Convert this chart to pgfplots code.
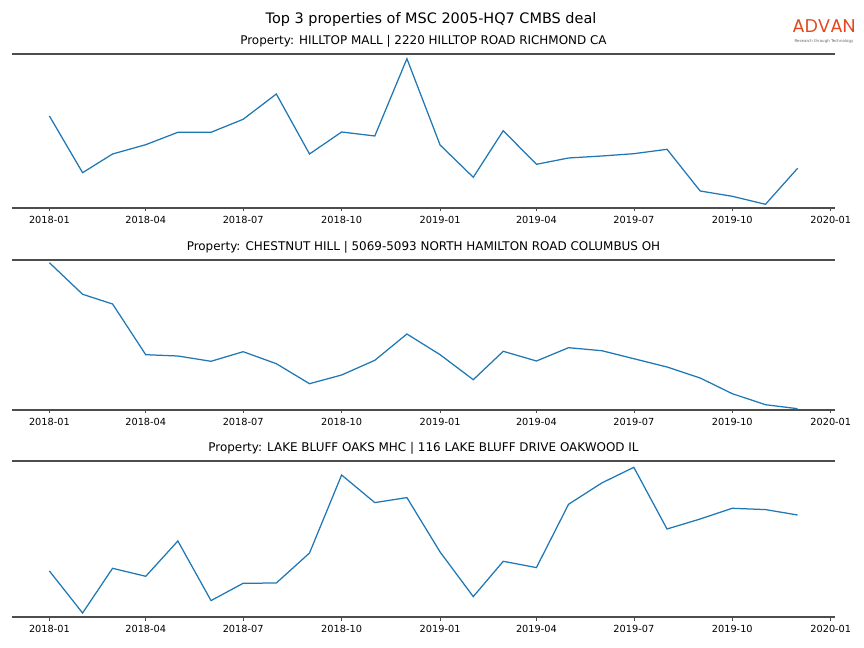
\documentclass[border=0pt]{standalone}
\usepackage{pgfplots}
\pgfplotsset{compat=1.18}
\usepackage{fontspec}
\setmainfont{DejaVu Sans}
\newfontfamily\logofont{Poppins}
\definecolor{mplblue}{HTML}{1F77B4}
\definecolor{spine}{HTML}{4D4D4D}
\definecolor{advan}{HTML}{E4471C}
\pgfplotsset{
  panel/.style={
    scale only axis, width=823bp,
    xmin=-34.95, xmax=733.95, ymin=0,
    axis x line=box, axis y line=none,
    axis line style={spine, line width=1.6bp},
    xtick={0,90,181,273,365,455,546,638,730},
    xticklabels={2018-01,2018-04,2018-07,2018-10,2019-01,2019-04,2019-07,2019-10,2020-01},
    xtick pos=bottom, xtick align=outside,
    major tick length=3.5bp,
    tick style={black!70, line width=0.6bp},
    ytick=\empty,
    ticklabel style={font=\fontsize{9.8}{11}\selectfont, /pgf/number format/assume math mode=true},
    xticklabel style={yshift=-1.5bp},
    title style={font=\fontsize{12}{13}\selectfont, yshift=-3bp},
  },
  dataline/.style={mplblue, line width=1.25bp, mark=none},
}
\begin{document}
\begin{tikzpicture}
\path[use as bounding box] (0,0) rectangle (864bp,648bp);
\node[font=\fontsize{14.5}{16}\selectfont] at (431bp,628.5bp) {Top 3 properties of MSC 2005-HQ7 CMBS deal};
\node[advan, font=\logofont\fontsize{18.5}{19}\selectfont, inner sep=0pt, anchor=base] at (824bp,615bp) {ADVAN};
\node[black!60, font=\fontsize{4}{5}\selectfont, inner sep=0pt, anchor=base] at (824bp,605bp) {Research through Technology};

\begin{axis}[panel, at={(12bp,440bp)}, anchor=south west, height=154bp, ymax=154,
  title={Property: HILLTOP MALL | 2220 HILLTOP ROAD RICHMOND CA}]
\addplot[dataline] coordinates {(0,92) (31,35.3) (59,54) (90,63.3) (120,75.7) (151,75.7) (181,88.7) (212,114) (243,54) (273,76) (304,72) (334,149.3)
(365,63) (396,30.7) (424,77.3) (455,43.7) (485,50) (516,52) (546,54.3) (577,58.7) (608,17) (638,11.7) (669,3.7) (699,39.7)};
\end{axis}

\begin{axis}[panel, at={(12bp,238bp)}, anchor=south west, height=150bp, ymax=150,
  title={Property: CHESTNUT HILL | 5069-5093 NORTH HAMILTON ROAD COLUMBUS OH}]
\addplot[dataline] coordinates {(0,147.3) (31,115.7) (59,106) (90,55.3) (120,54) (151,48.7) (181,58.3) (212,46.3) (243,26.3) (273,35) (304,49.7) (334,76)
(365,55.3) (396,30.3) (424,58.7) (455,49) (485,62.3) (516,59.3) (546,51.3) (577,43) (608,32) (638,16.3) (669,5.3) (699,1.3)};
\end{axis}

\begin{axis}[panel, at={(12bp,31bp)}, anchor=south west, height=155.7bp, ymax=155.7,
  title={Property: LAKE BLUFF OAKS MHC | 116 LAKE BLUFF DRIVE OAKWOOD IL}]
\addplot[dataline] coordinates {(0,46) (31,4) (59,48.7) (90,40.7) (120,76) (151,16.4) (181,33.7) (212,34) (243,64) (273,142) (304,114.4) (334,119.4)
(365,65) (396,20.4) (424,55.7) (455,49.4) (485,112.7) (516,134) (546,149.7) (577,88) (608,98) (638,108.7) (669,107.4) (699,102)};
\end{axis}
\end{tikzpicture}
\end{document}
